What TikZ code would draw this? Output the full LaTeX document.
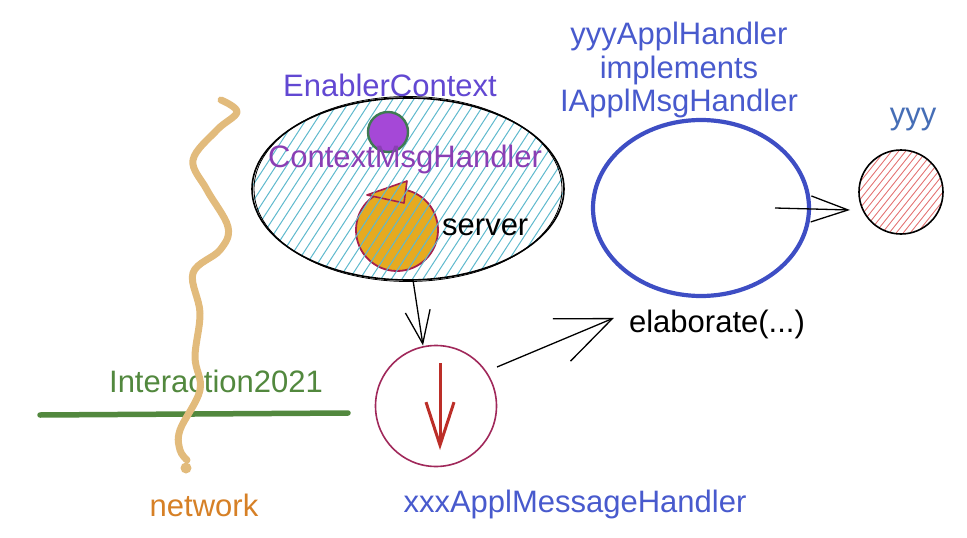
\documentclass[tikz,border=0pt]{standalone}
\usepackage{fontspec}
\setmainfont{Liberation Sans}
\usetikzlibrary{arrows.meta,shapes.geometric,calc}
\definecolor{tan}{RGB}{226,187,124}
\definecolor{grn}{RGB}{82,136,62}
\definecolor{nettxt}{RGB}{214,128,38}
\definecolor{enctx}{RGB}{98,72,210}
\definecolor{cmhtxt}{RGB}{138,62,180}
\definecolor{hatchcyan}{RGB}{95,185,205}
\definecolor{purp}{RGB}{165,72,215}
\definecolor{dkgreen}{RGB}{62,122,82}
\definecolor{gold}{RGB}{230,170,32}
\definecolor{crimson}{RGB}{165,32,78}
\definecolor{wine}{RGB}{160,40,90}
\definecolor{bluel}{RGB}{62,78,196}
\definecolor{bluetxt}{RGB}{72,90,205}
\definecolor{yyytxt}{RGB}{70,110,182}
\definecolor{redhatch}{RGB}{228,120,120}
\definecolor{redarr}{RGB}{188,46,40}
\begin{document}
\begin{tikzpicture}[x=1pt,y=-1pt,
  txt/.style={font=\fontsize{31}{34}\selectfont, inner sep=0pt},
  arr/.style={line width=1.3pt, -{Straight Barb[length=32pt,width=26pt]}},
  shapebox/.style={inner sep=0pt, outer sep=0pt}]
\useasboundingbox (0,0) rectangle (967,538);

% gold server circle (drawn below the hatching)
\node[shapebox, circle, minimum size=82pt, fill=gold, draw=crimson, line width=1.8pt] (srv) at (397,230) {};
\filldraw[fill=gold, draw=crimson, line width=1.6pt, line join=round]
  ([shift={(-30,-35)}]srv.center) -- ([shift={(10,-49)}]srv.center) -- ([shift={(7,-27)}]srv.center) -- cycle;

% EnablerContext ellipse with cyan hachure
\node[shapebox, ellipse, minimum width=312pt, minimum height=182pt, draw=black, line width=1.6pt,
  path picture={
    \foreach \k in {-24,...,24}
      \draw[hatchcyan, line width=1pt]
        ($(path picture bounding box.center)+(\k*10.5-65,100)$) -- ++(130,-200);
  }] (ctx) at (408,189) {};
\draw[line width=0.8pt] (ctx.center) ellipse [x radius=154pt, y radius=92.5pt];

% ContextMsgHandler purple circle
\node[shapebox, circle, minimum size=40pt, fill=purp, draw=dkgreen, line width=2.4pt] (cmh) at (388,132) {};

% labels in the ellipse
\node[txt, text=enctx, anchor=base] (lblctx) at (390,96) {EnablerContext};
\node[txt, text=cmhtxt, anchor=base] (lblcmh) at (405,167) {ContextMsgHandler};
\node[txt, text=black, anchor=base west] (lblsrv) at (442,235) {server};

% xxxApplMessageHandler circle
\node[shapebox, circle, minimum size=121pt, draw=wine, line width=1.6pt] (xxx) at (436,406) {};
\draw[redarr, line width=3pt, -{Straight Barb[length=43pt,width=28pt]}]
  ([shift={(4,-43)}]xxx.center) -- ([shift={(4,44)}]xxx.center);
\node[txt, text=bluetxt, anchor=base] (lblxxx) at (575,512) {xxxApplMessageHandler};

% yyyApplHandler ellipse
\node[shapebox, ellipse, minimum width=216pt, minimum height=176pt, draw=bluel, line width=4.2pt] (appl) at (701,208) {};
\node[txt, text=bluetxt, align=center, anchor=north, font=\fontsize{31}{33.5}\selectfont] (lblappl) at (679,22)
  {yyyApplHandler\\implements\\IApplMsgHandler};

% yyy circle with red hachure
\node[shapebox, circle, minimum size=84pt, draw=black, line width=1.6pt,
  path picture={
    \foreach \k in {-14,...,14}
      \draw[redhatch, line width=0.9pt]
        ($(path picture bounding box.center)+(\k*7-40,50)$) -- ++(80,-100);
  }] (yyy) at (901,192) {};
\node[txt, text=yyytxt, anchor=base] (lblyyy) at (913,124) {yyy};

% elaborate label
\node[txt, text=black, anchor=base] (elab) at (717,332) {elaborate(...)};

% connectors
\draw[arr, -{Straight Barb[length=33pt,width=25pt]}] ([xshift=5pt]ctx.south) -- ([xshift=-13pt]xxx.north);
\draw[arr, -{Straight Barb[length=55pt,width=46pt]}] ([shift={(61,-39)}]xxx.center) -- ([shift={(-15,-6)}]elab.west);
\coordinate (applin) at ([xshift=74pt]appl.center);
\draw[arr, -{Straight Barb[length=37pt,width=26pt]}] (applin) -- ([shift={(-9,18)}]yyy.west);

% Interaction2021 line
\coordinate (g1) at (40,415);
\coordinate (g2) at (348,413);
\draw[grn, line width=5.5pt, line cap=round] (g1) -- (g2);
\node[txt, text=grn, anchor=base] (lblint) at (216,392) {Interaction2021};

% network wiggle
\draw[tan, line width=7pt, line cap=round, line join=round] plot[smooth, tension=0.6] coordinates
  {(221,100) (237,112) (217,130) (193,160) (207,190) (228,227) (220,250) (193,273)
   (200,313) (195,357) (200,390) (180,430) (180,450) (187,460)};
\node[shapebox, circle, minimum size=11pt, fill=tan] (netdot) at (186,468) {};
\node[txt, text=nettxt, anchor=base] (lblnet) at (204,516) {network};
\end{tikzpicture}
\end{document}
